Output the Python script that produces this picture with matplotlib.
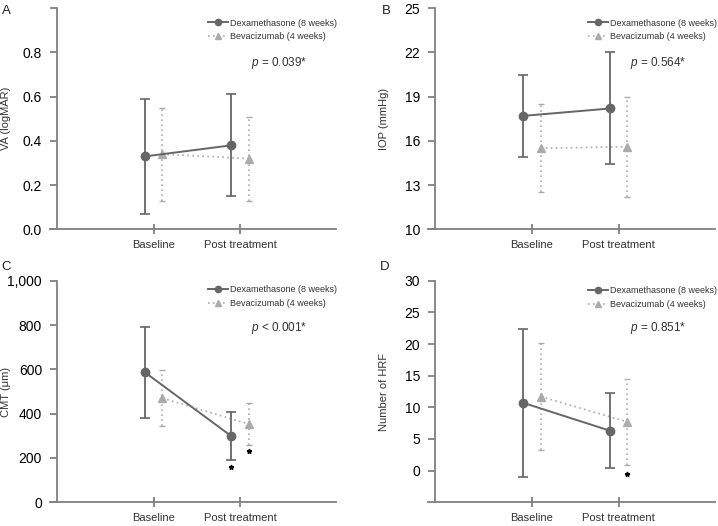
import numpy as np
import matplotlib
matplotlib.use("Agg")
import matplotlib.pyplot as plt

plt.rcParams['font.family'] = ['Liberation Sans', 'DejaVu Sans']
plt.rcParams['mathtext.fontset'] = 'custom'
plt.rcParams['mathtext.rm'] = 'Liberation Sans'
plt.rcParams['mathtext.it'] = 'Liberation Sans:italic'

# ---- data ----
timepoints = ['Baseline', 'Post treatment']
series_names = ['Dexamethasone (8 weeks)', 'Bevacizumab (4 weeks)']

va_dex = [0.33, 0.38]
va_dex_sd = [0.26, 0.23]
va_bev = [0.34, 0.32]
va_bev_sd = [0.21, 0.19]

iop_dex = [17.7, 18.2]
iop_dex_sd = [2.8, 3.8]
iop_bev = [15.5, 15.6]
iop_bev_sd = [3.0, 3.4]

cmt_dex = [586, 298]
cmt_dex_sd = [205, 109]
cmt_bev = [470, 353]
cmt_bev_sd = [125, 96]

hrf_dex = [10.7, 6.3]
hrf_dex_sd = [11.7, 5.9]
hrf_bev = [11.7, 7.7]
hrf_bev_sd = [8.5, 6.8]

p_values = ['= 0.039*', '= 0.564*', '< 0.001*', '= 0.851*']

# significance stars: (series index, timepoint index, y)
cmt_stars = [(0, 1, 161), (1, 1, 232)]
hrf_stars = [(1, 1, -0.6)]

DEX_COLOR = '#666666'
BEV_COLOR = '#ababab'
AXIS_COLOR = '#808080'
TEXT_COLOR = '#333333'

W, H = 718, 526
fig = plt.figure(figsize=(W / 100, H / 100), dpi=100)


def px_axes(left, right, top, bottom):
    return fig.add_axes([left / W, 1 - bottom / H, (right - left) / W, (bottom - top) / H])


def draw_panel(ax, dex, dex_sd, bev, bev_sd, ylim, yticks, yticklabels, ylabel, stars=()):
    x = np.arange(len(timepoints))
    off = 0.1
    xd = x - off
    xb = x + off

    # error bars
    ax.errorbar(xd, dex, yerr=dex_sd, fmt='none', ecolor=DEX_COLOR,
                elinewidth=1.3, capsize=3.5, capthick=1.2, zorder=3)
    eb2 = ax.errorbar(xb, bev, yerr=bev_sd, fmt='none', ecolor=BEV_COLOR,
                      elinewidth=1.2, capsize=2.5, capthick=1.0, zorder=2)
    eb2[2][0].set_linestyle((0, (1, 2)))

    ax.plot(xb, bev, color=BEV_COLOR, lw=1.2, ls=(0, (1, 2)), marker='^',
            markersize=6, label=series_names[1], zorder=2)
    ax.plot(xd, dex, color=DEX_COLOR, lw=1.4, marker='o', markersize=6,
            label=series_names[0], zorder=4)

    for s, t, y in stars:
        xs = xd[t] if s == 0 else xb[t]
        ax.plot(xs, y, marker='*', color='black', markersize=3.5, ls='none', zorder=5)

    ax.set_xlim(-1.2, 2.11)
    ax.set_ylim(*ylim)
    ax.set_xticks(x)
    ax.set_xticklabels(timepoints, fontsize=8, color=TEXT_COLOR)
    ax.set_yticks(yticks)
    ax.set_yticklabels(yticklabels, fontsize=7.5, color=TEXT_COLOR)

    for side in ['top', 'right']:
        ax.spines[side].set_visible(False)
    ax.spines['left'].set_position(('data', -1.115))
    for side in ['left', 'bottom']:
        ax.spines[side].set_color(AXIS_COLOR)
        ax.spines[side].set_linewidth(1.3)
    ax.tick_params(axis='x', direction='inout', length=7, width=1.3, color=AXIS_COLOR, pad=4.5)
    ax.tick_params(axis='y', direction='out', length=5, width=1.3, color=AXIS_COLOR, pad=6)

    ax.set_ylabel(ylabel, fontsize=8, color=TEXT_COLOR)
    ax.yaxis.set_label_coords(-0.135, 0.5)
    ax.set_facecolor('none')


def add_legend(ax, x_px, y_px):
    h, l = ax.get_legend_handles_labels()
    order = [l.index(n) for n in series_names]
    leg = ax.legend([h[i] for i in order], [l[i] for i in order],
                    loc='upper left', bbox_to_anchor=(x_px / W, 1 - y_px / H),
                    bbox_transform=fig.transFigure, frameon=False, fontsize=6.5,
                    borderpad=0, handlelength=2.2, handletextpad=0.25,
                    labelspacing=0.55, markerscale=0.75, borderaxespad=0)
    for t in leg.get_texts():
        t.set_color(TEXT_COLOR)


# panel A
axA = px_axes(50, 336, 8.3, 229.3)
draw_panel(axA, va_dex, va_dex_sd, va_bev, va_bev_sd, (0, 1.0),
           [0, 0.2, 0.4, 0.6, 0.8, 1.0], ['0.0', '0.2', '0.4', '0.6', '0.8', ''],
           'VA (logMAR)')
add_legend(axA, 208, 18.5)

# panel B
axB = px_axes(428, 715, 8.3, 229.3)
draw_panel(axB, iop_dex, iop_dex_sd, iop_bev, iop_bev_sd, (10, 25),
           [10, 13, 16, 19, 22, 25], ['10', '13', '16', '19', '22', '25'],
           'IOP (mmHg)')
add_legend(axB, 588, 18.5)

# panel C
axC = px_axes(50, 336, 280.7, 502.3)
draw_panel(axC, cmt_dex, cmt_dex_sd, cmt_bev, cmt_bev_sd, (0, 1000),
           [0, 200, 400, 600, 800, 1000], ['0', '200', '400', '600', '800', '1,000'],
           'CMT (\u03bcm)', stars=cmt_stars)
add_legend(axC, 208, 285.5)

# panel D
axD = px_axes(428, 715, 280.7, 502.3)
draw_panel(axD, hrf_dex, hrf_dex_sd, hrf_bev, hrf_bev_sd, (-5, 30),
           [0, 5, 10, 15, 20, 25, 30], ['0', '5', '10', '15', '20', '25', '30'],
           'Number of HRF', stars=hrf_stars)
add_legend(axD, 588, 286)

# p-values
for (xp, yp), txt in zip([(250.7, 62.7), (630, 62.7), (250.7, 327.7), (630, 328.3)], p_values):
    fig.text(xp / W, 1 - yp / H, r'$p$ ' + txt, fontsize=8.5, color=TEXT_COLOR,
             ha='left', va='center')

# panel letters
for (xp, yp), letter in zip([(6, 11.5), (386, 11.5), (6, 267), (385, 267)], 'ABCD'):
    fig.text(xp / W, 1 - yp / H, letter, fontsize=9.5, color='#222222',
             ha='center', va='center')

fig.savefig('out.png', dpi=100, facecolor='white')
